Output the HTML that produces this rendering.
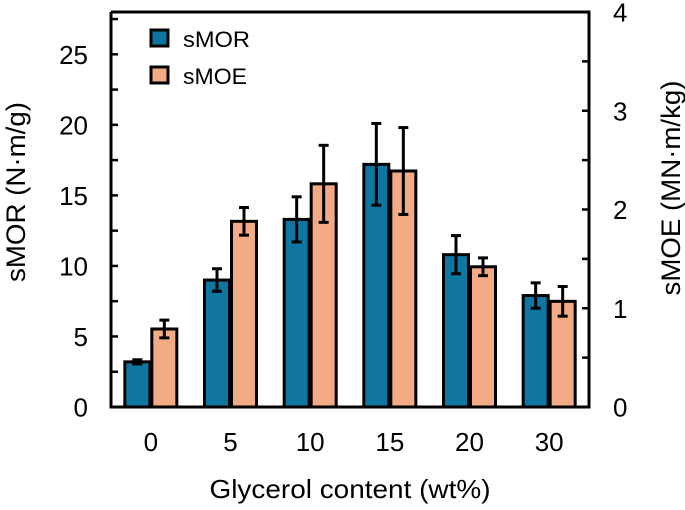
<!DOCTYPE html>
<html><head><meta charset="utf-8"><style>
body{margin:0;background:#fff;}
svg{font-family:"Liberation Sans",Arial,sans-serif;}
</style></head><body>
<svg id="chart" width="685" height="505" viewBox="0 0 685 505">
<g id="bars"></g>
<g id="axes"></g>
<g>
<rect x="151" y="30" width="17" height="16" fill="#0e76a0" stroke="#000" stroke-width="3"/>
<text x="183" y="47" font-size="22" textLength="67" lengthAdjust="spacingAndGlyphs">sMOR</text>
<rect x="151" y="67" width="17" height="16" fill="#f2ab85" stroke="#000" stroke-width="3"/>
<text x="183" y="84" font-size="22" textLength="64" lengthAdjust="spacingAndGlyphs">sMOE</text>
</g>
<text x="350" y="498" font-size="26" text-anchor="middle" textLength="281" lengthAdjust="spacingAndGlyphs">Glycerol content (wt%)</text>
<text transform="translate(25,192) rotate(-90)" font-size="27" text-anchor="middle" textLength="180" lengthAdjust="spacingAndGlyphs">sMOR (N·m/g)</text>
<text transform="translate(680,188) rotate(-90)" font-size="27" text-anchor="middle" textLength="215" lengthAdjust="spacingAndGlyphs">sMOE (MN·m/kg)</text>
</svg>
<script>
const categories=["0","5","10","15","20","30"];
const smor=[3.2,9.0,13.3,17.2,10.8,7.9];
const smorErr=[0.15,0.8,1.6,2.9,1.35,0.9];
const smoe=[0.79,1.88,2.26,2.39,1.42,1.07];
const smoeErr=[0.09,0.14,0.39,0.44,0.09,0.15];
const leftTicks=[0,5,10,15,20,25];
const rightTicks=[0,1,2,3,4];
const L=111,R=589,T=12,B=407,LMAX=28,RMAX=4;
const yL=v=>B-(B-T)*v/LMAX, yR=v=>B-(B-T)*v/RMAX;
const gw=(R-L)/categories.length, xC=i=>L+gw*(i+0.5);
const NS="http://www.w3.org/2000/svg";
function mk(tag,at,parent){const e=document.createElementNS(NS,tag);for(const k in at)e.setAttribute(k,at[k]);parent.appendChild(e);return e;}
const bars=document.getElementById('bars'),axes=document.getElementById('axes');
function errbar(x,y1,y2,parent){
 const g=mk('g',{stroke:'#000','stroke-width':3},parent);
 
 
 mk('line',{x1:x,x2:x,y1:y1,y2:y2},g);
 mk('line',{x1:x-5,x2:x+5,y1:y1,y2:y1},g);
 mk('line',{x1:x-5,x2:x+5,y1:y2,y2:y2},g);
}
categories.forEach((c,i)=>{
 const cx=xC(i),w=25;
 let x=cx-13.5-w/2,y=yL(smor[i]);
 const b1=mk('rect',{x:x,y:y,width:w,height:B-y,fill:'#0e76a0',stroke:'#000','stroke-width':3},bars);
 
 
 errbar(cx-13.5,yL(smor[i]+smorErr[i]),yL(smor[i]-smorErr[i]),bars);
 x=cx+13.5-w/2;y=yR(smoe[i]);
 const b2=mk('rect',{x:x,y:y,width:w,height:B-y,fill:'#f2ab85',stroke:'#000','stroke-width':3},bars);
 
 
 errbar(cx+13.5,yR(smoe[i]+smoeErr[i]),yR(smoe[i]-smoeErr[i]),bars);
 const t=mk('text',{x:cx,y:451,'font-size':26,'text-anchor':'middle'},axes);t.textContent=c;
 
 
});
const frame=mk('path',{d:`M${L},${T}V${B}H${R}V${T}H${L}`,fill:'none',stroke:'#000','stroke-width':3},axes);


for(let v=0;v<=LMAX;v+=2.5){const y=yL(v);mk('line',{x1:L,x2:L+7,y1:y,y2:y,stroke:'#000','stroke-width':2.5},axes);}
leftTicks.forEach(v=>{const t=mk('text',{x:88,y:yL(v)+9.5,'font-size':26,'text-anchor':'end'},axes);t.textContent=v;
 
 });
for(let v=0.5;v<RMAX;v+=0.5){const y=yR(v);mk('line',{x1:R-7,x2:R,y1:y,y2:y,stroke:'#000','stroke-width':2.5},axes);}
rightTicks.forEach(v=>{const t=mk('text',{x:613,y:yR(v)+9.5,'font-size':26,'text-anchor':'start'},axes);t.textContent=v;
 
 });
</script>
</body></html>
